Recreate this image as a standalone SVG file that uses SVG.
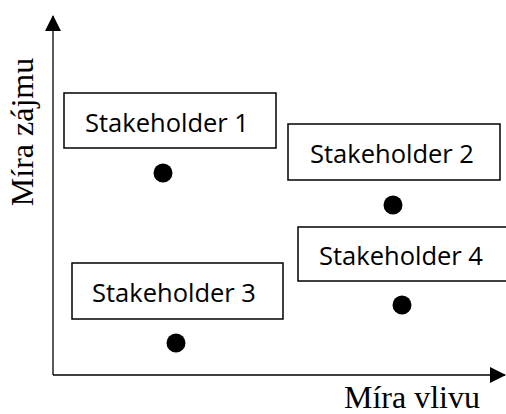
<svg xmlns="http://www.w3.org/2000/svg" width="506" height="414" viewBox="0 0 506 414">
  <style>
    .box { fill: #fff; stroke: #000; stroke-width: 1.5; }
    .lbl { font-family: "Open Sans", "Liberation Sans", sans-serif; font-size: 25.5px; fill: #000; }
    .axis { stroke: #000; stroke-width: 1.3; fill: none; }
    .axlbl { font-family: "Liberation Serif", "Times New Roman", serif; font-size: 32px; fill: #000; }
    .dot { fill: #000; }
  </style>
  <defs>
    <marker id="arrow" viewBox="0 0 16 16" refX="15" refY="8" markerWidth="16" markerHeight="16" markerUnits="userSpaceOnUse" orient="auto">
      <path d="M0,0 L16,8 L0,16 Z" fill="#000"/>
    </marker>
  </defs>

  <!-- axes -->
  <g id="connectors">
    <path class="axis" d="M53,375 L53,16" marker-end="url(#arrow)"/>
    <path class="axis" d="M53,375 L505,375" marker-end="url(#arrow)"/>
  </g>
  <text class="axlbl" transform="translate(33,132) rotate(-90)" text-anchor="middle">Míra zájmu</text>
  <text class="axlbl" x="412" y="408" text-anchor="middle">Míra vlivu</text>

  <g id="stakeholder1">
    <rect class="box" x="64" y="93" width="212" height="55"/>
    <text class="lbl" x="167" y="132" text-anchor="middle">Stakeholder 1</text>
    <circle class="dot" cx="163" cy="173" r="9.5"/>
  </g>
  <g id="stakeholder2">
    <rect class="box" x="288" y="124" width="212" height="56"/>
    <text class="lbl" x="392" y="163" text-anchor="middle">Stakeholder 2</text>
    <circle class="dot" cx="393" cy="205" r="9.5"/>
  </g>
  <g id="stakeholder3">
    <rect class="box" x="72" y="263" width="211" height="56"/>
    <text class="lbl" x="174" y="302" text-anchor="middle">Stakeholder 3</text>
    <circle class="dot" cx="176" cy="343" r="9.5"/>
  </g>
  <g id="stakeholder4">
    <rect class="box" x="298" y="227" width="214" height="54"/>
    <text class="lbl" x="401" y="265" text-anchor="middle">Stakeholder 4</text>
    <circle class="dot" cx="402" cy="305" r="9.5"/>
  </g>
</svg>
